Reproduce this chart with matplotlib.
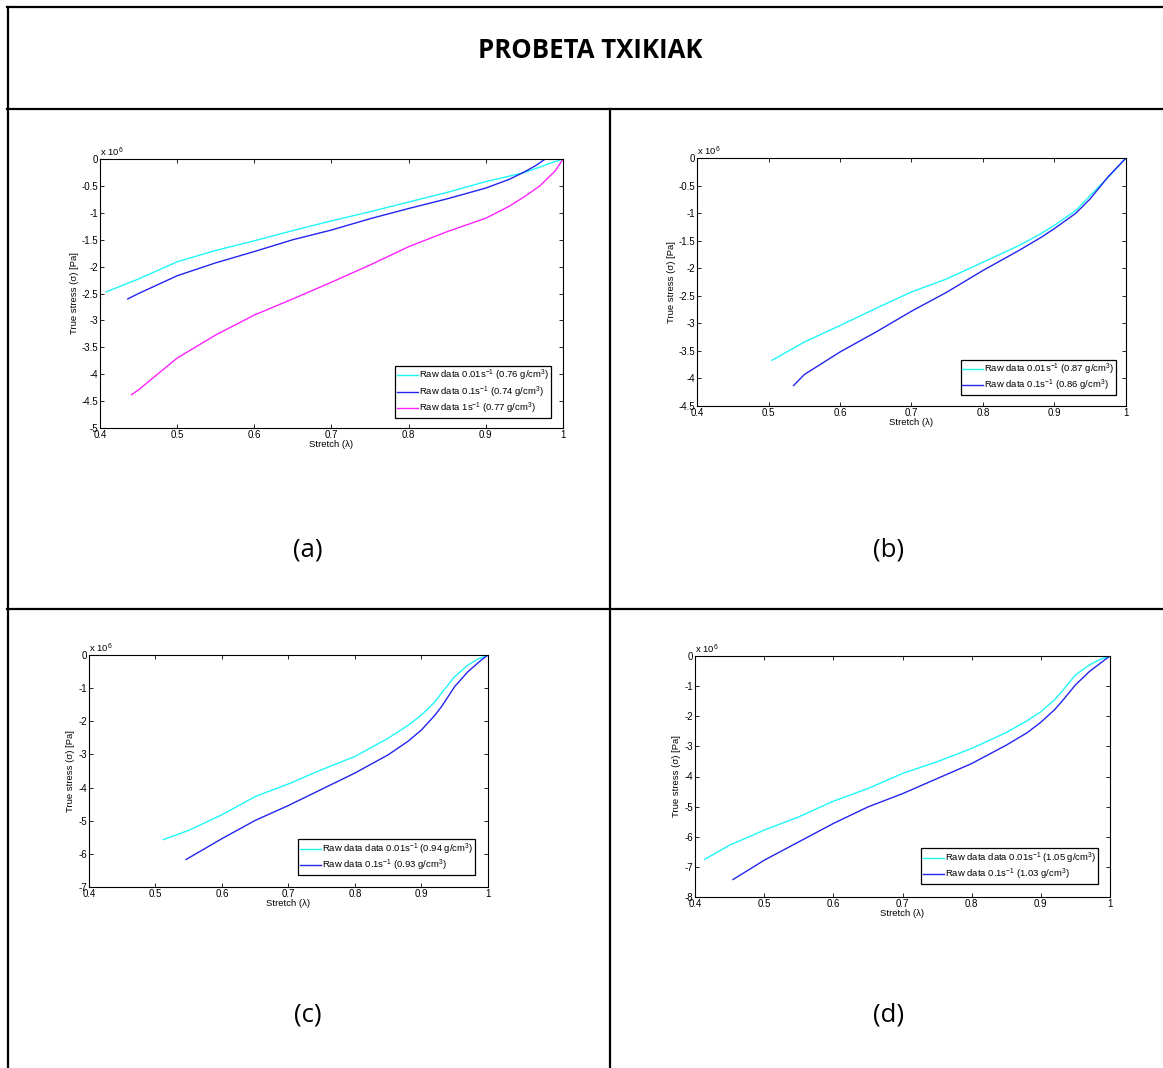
import matplotlib
matplotlib.use("Agg")
import matplotlib.pyplot as plt
from matplotlib.lines import Line2D
from matplotlib.ticker import FuncFormatter
import numpy as np

plt.rcParams["font.family"] = ["Liberation Sans", "DejaVu Sans"]
plt.rcParams["mathtext.default"] = "regular"
plt.rcParams["axes.unicode_minus"] = False

# Datos (estiramiento, tension verdadera en 10^6 Pa)
a_cyan_x = [0.408, 0.45, 0.5, 0.55, 0.6, 0.65, 0.7, 0.75, 0.8, 0.85, 0.9, 0.93, 0.95, 0.97, 0.985, 1.0]
a_cyan_y = [-2.47, -2.23, -1.91, -1.70, -1.52, -1.33, -1.15, -0.98, -0.80, -0.62, -0.42, -0.32, -0.25, -0.15, -0.07, 0.0]
a_blue_x = [0.436, 0.45, 0.5, 0.55, 0.6, 0.65, 0.7, 0.75, 0.8, 0.85, 0.9, 0.93, 0.95, 0.965, 0.977, 1.0]
a_blue_y = [-2.60, -2.50, -2.17, -1.93, -1.72, -1.50, -1.32, -1.11, -0.92, -0.74, -0.54, -0.38, -0.24, -0.12, 0.0, 0.0]
a_mag_x = [0.441, 0.45, 0.5, 0.55, 0.6, 0.65, 0.7, 0.75, 0.8, 0.85, 0.9, 0.93, 0.95, 0.97, 0.98, 0.99, 0.995, 1.0]
a_mag_y = [-4.38, -4.29, -3.70, -3.27, -2.90, -2.60, -2.29, -1.97, -1.63, -1.35, -1.10, -0.88, -0.70, -0.50, -0.36, -0.22, -0.11, 0.0]

b_cyan_x = [0.505, 0.55, 0.6, 0.65, 0.7, 0.75, 0.8, 0.85, 0.88, 0.9, 0.93, 0.95, 0.975, 1.0]
b_cyan_y = [-3.67, -3.34, -3.04, -2.73, -2.43, -2.19, -1.89, -1.59, -1.38, -1.22, -0.95, -0.68, -0.35, 0.0]
b_blue_x = [0.535, 0.55, 0.6, 0.65, 0.7, 0.75, 0.8, 0.85, 0.88, 0.9, 0.93, 0.95, 0.975, 1.0]
b_blue_y = [-4.13, -3.93, -3.52, -3.16, -2.78, -2.43, -2.04, -1.68, -1.45, -1.28, -1.00, -0.74, -0.34, 0.0]

c_cyan_x = [0.512, 0.55, 0.6, 0.65, 0.7, 0.75, 0.8, 0.85, 0.88, 0.9, 0.92, 0.93, 0.95, 0.97, 0.985, 1.0]
c_cyan_y = [-5.57, -5.29, -4.82, -4.27, -3.89, -3.46, -3.06, -2.51, -2.12, -1.81, -1.42, -1.15, -0.65, -0.30, -0.12, 0.0]
c_blue_x = [0.546, 0.6, 0.65, 0.7, 0.75, 0.8, 0.85, 0.88, 0.9, 0.92, 0.93, 0.95, 0.97, 0.99, 1.0]
c_blue_y = [-6.17, -5.54, -4.99, -4.54, -4.05, -3.56, -3.01, -2.60, -2.26, -1.82, -1.56, -0.95, -0.50, -0.15, 0.0]

d_cyan_x = [0.414, 0.45, 0.5, 0.55, 0.6, 0.65, 0.7, 0.75, 0.8, 0.85, 0.88, 0.9, 0.92, 0.93, 0.95, 0.97, 0.985, 1.0]
d_cyan_y = [-6.75, -6.28, -5.78, -5.34, -4.82, -4.40, -3.90, -3.51, -3.07, -2.54, -2.15, -1.85, -1.45, -1.19, -0.63, -0.30, -0.12, 0.0]
d_blue_x = [0.455, 0.5, 0.55, 0.6, 0.65, 0.7, 0.75, 0.8, 0.85, 0.88, 0.9, 0.92, 0.93, 0.95, 0.97, 0.99, 1.0]
d_blue_y = [-7.42, -6.78, -6.17, -5.56, -5.01, -4.57, -4.07, -3.57, -2.96, -2.55, -2.20, -1.78, -1.52, -0.96, -0.52, -0.17, 0.0]

CYAN = "#1ff8f8"
BLUE = "#2424ee"
MAG = "#ff22ff"

W, H = 1163, 1068
fig = plt.figure(figsize=(W / 100, H / 100), dpi=100)


def px_axes(left, right, top, bottom):
    return fig.add_axes([left / W, 1 - bottom / H, (right - left) / W, (bottom - top) / H])


def style(ax, ymin, ystep, leg_anchor):
    ax.set_xlim(0.4, 1.0)
    ax.set_ylim(ymin, 0)
    ax.set_xticks(np.arange(0.4, 1.0001, 0.1))
    ax.set_yticks(np.arange(ymin, 0.0001, ystep))
    fmt = FuncFormatter(lambda v, p: "%g" % round(v, 2))
    ax.xaxis.set_major_formatter(fmt)
    ax.yaxis.set_major_formatter(fmt)
    ax.tick_params(direction="in", top=True, right=True, labelsize=7,
                   length=3, width=0.6, pad=1.5)
    for s in ax.spines.values():
        s.set_linewidth(0.8)
    ax.set_xlabel("Stretch (λ)", fontsize=6.8, labelpad=0)
    ax.set_ylabel("True stress (σ) [Pa]", fontsize=6.8, labelpad=2)
    ax.text(0.0, 1.0, "x 10$^6$", transform=ax.transAxes, fontsize=6.8,
            ha="left", va="bottom")
    leg = ax.legend(loc="lower right", bbox_to_anchor=leg_anchor, borderaxespad=0,
                    fontsize=6.8, fancybox=False, edgecolor="black", framealpha=1,
                    handlelength=2.2, handletextpad=0.1, borderpad=0.2,
                    labelspacing=0.12)
    leg.get_frame().set_linewidth(0.9)


# (a)
ax = px_axes(100, 563, 159, 428)
ax.plot(a_cyan_x, a_cyan_y, color=CYAN, lw=1, label="Raw data 0.01s$^{-1}$ (0.76 g/cm$^3$)")
ax.plot(a_blue_x, a_blue_y, color=BLUE, lw=1, label="Raw data 0.1s$^{-1}$ (0.74 g/cm$^3$)")
ax.plot(a_mag_x, a_mag_y, color=MAG, lw=1, label="Raw data 1s$^{-1}$ (0.77 g/cm$^3$)")
style(ax, -5, 0.5, (0.974, 0.037))

# (b)
ax = px_axes(697, 1126, 158, 406)
ax.plot(b_cyan_x, b_cyan_y, color=CYAN, lw=1, label="Raw data 0.01s$^{-1}$ (0.87 g/cm$^3$)")
ax.plot(b_blue_x, b_blue_y, color=BLUE, lw=1, label="Raw data 0.1s$^{-1}$ (0.86 g/cm$^3$)")
style(ax, -4.5, 0.5, (0.977, 0.044))

# (c)
ax = px_axes(89, 488, 655, 887)
ax.plot(c_cyan_x, c_cyan_y, color=CYAN, lw=1, label="Raw data data 0.01s$^{-1}$ (0.94 g/cm$^3$)")
ax.plot(c_blue_x, c_blue_y, color=BLUE, lw=1, label="Raw data 0.1s$^{-1}$ (0.93 g/cm$^3$)")
style(ax, -7, 1, (0.967, 0.052))

# (d)
ax = px_axes(695, 1110, 656, 897)
ax.plot(d_cyan_x, d_cyan_y, color=CYAN, lw=1, label="Raw data data 0.01s$^{-1}$ (1.05 g/cm$^3$)")
ax.plot(d_blue_x, d_blue_y, color=BLUE, lw=1, label="Raw data 0.1s$^{-1}$ (1.03 g/cm$^3$)")
style(ax, -8, 1, (0.971, 0.054))

# Tabla
def hline(y, x0, x1):
    fig.add_artist(Line2D([x0 / W, x1 / W], [1 - y / H, 1 - y / H], color="black", lw=1.6))


def vline(x, y0, y1):
    fig.add_artist(Line2D([x / W, x / W], [1 - y0 / H, 1 - y1 / H], color="black", lw=1.6))


hline(7, 7, W)
hline(109, 7, W)
hline(609, 7, W)
vline(8, 7, H)
vline(610, 109, H)

fig.text(590 / W, 1 - 50 / H, "PROBETA TXIKIAK", ha="center", va="center",
         fontsize=18.5, fontweight="bold", family="Open Sans")
for lab, x, y in [("(a)", 308, 550), ("(b)", 889, 550), ("(c)", 308, 1015), ("(d)", 889, 1015)]:
    fig.text(x / W, 1 - y / H, lab, ha="center", va="center", fontsize=18.5, family="Open Sans")

fig.savefig("out.png", dpi=100)
